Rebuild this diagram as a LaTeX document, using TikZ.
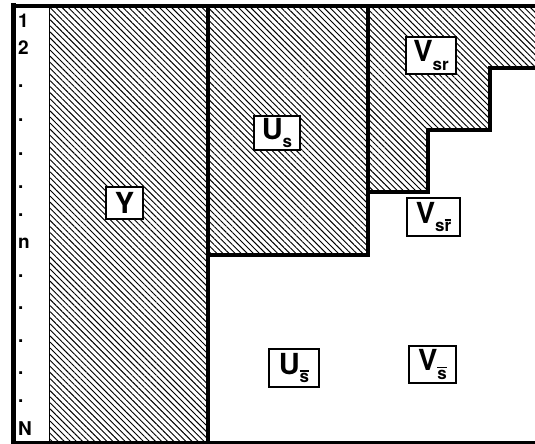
\documentclass[tikz,border=0pt]{standalone}
\usepackage{fontspec}
\setmainfont{TeX Gyre Heros}
\usetikzlibrary{patterns.meta}
\newcommand\mysub[1]{\raisebox{-0.28em}{\fontsize{17}{17}\selectfont #1}}
\newcommand\myob[1]{\vbox{\hrule height 1.3pt\kern1.5pt\hbox{#1}}}
\tikzset{
  hatch/.style={pattern={Lines[angle=-45,distance=4.3pt,line width=0.95pt]}},
  lab/.style={draw, line width=1.4pt, fill=white, inner sep=0pt, font=\fontsize{29}{29}\selectfont\bfseries},
  num/.style={anchor=base west, inner sep=0pt, font=\fontsize{19}{19}\selectfont\bfseries},
  thick line/.style={line width=3.2pt}
}
\begin{document}
\begin{tikzpicture}[x=1pt,y=-1pt]
\useasboundingbox (0,0) rectangle (535,444);
% hatched regions
\fill[hatch] (49,6) rectangle (208,442);
\fill[hatch] (208,6) rectangle (368,255);
\fill[hatch] (368,6) -- (535,6) -- (535,68) -- (490,68) -- (490,130) -- (428,130) -- (428,192) -- (368,192) -- cycle;
% dividing lines
\draw[line width=1.6pt] (49.5,6) -- (49.5,442);
\draw[thick line] (208,6) -- (208,442);
\draw[thick line] (208,255) -- (368,255) -- (368,6);
\draw[thick line] (368,192) -- (428,192) -- (428,130) -- (490,130) -- (490,68) -- (535,68);
% frame
\draw[line width=5pt] (13.5,3.5) -- (13.5,444);
\draw[line width=4.5pt] (11,6) -- (535,6);
\draw[line width=3pt] (11,442.5) -- (535,442.5);
% row labels
\foreach \t/\y [count=\i] in {1/28,2/55,./88,./121,./155,./188,./216,n/248,./277,./309,./342,./374,./402,N/435}
  \node[num] (r\i) at (18,\y) {\t};
% region labels
\node[lab, minimum width=37pt, minimum height=32pt] (Y) at (124.5,203) {Y};
\node[lab, minimum width=46pt, minimum height=34pt] (Us) at (277,133) {U\mysub{s}};
\node[lab, minimum width=50pt, minimum height=37pt] (Vsr) at (431,55.5) {V\mysub{sr}};
\node[lab, minimum width=53pt, minimum height=38pt] (Vsrb) at (433.5,217) {V\mysub{s\myob{r}}};
\node[lab, minimum width=50pt, minimum height=38pt] (Usb) at (294,368) {U\mysub{\myob{s}}};
\node[lab, minimum width=47pt, minimum height=37pt] (Vsb) at (432.5,364.5) {V\mysub{\myob{s}}};
\end{tikzpicture}
\end{document}
